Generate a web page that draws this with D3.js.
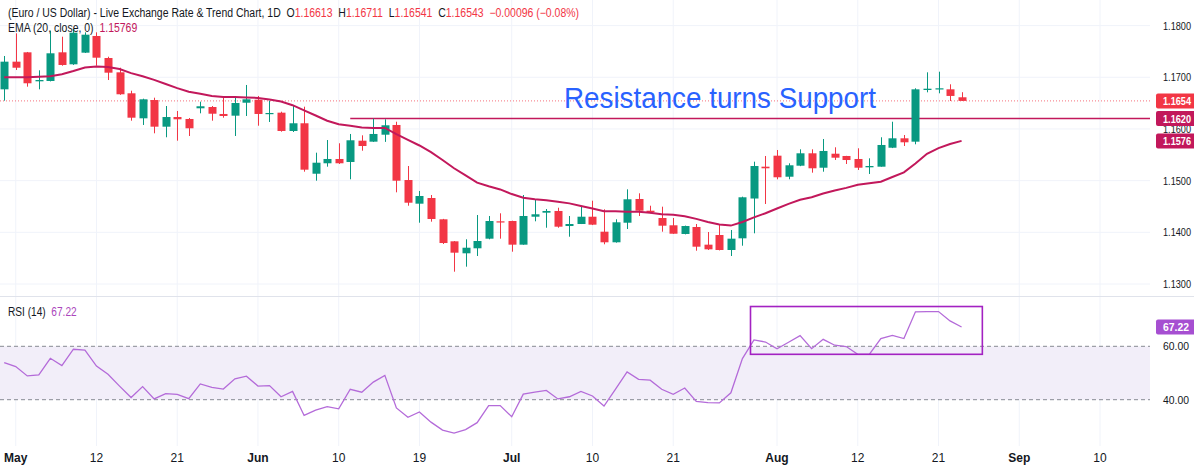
<!DOCTYPE html>
<html>
<head>
<meta charset="utf-8">
<script src="https://cdn.jsdelivr.net/npm/d3@7"></script>
<style>
  body { margin: 0; background: #fff; }
  svg { display: block; font-family: "Liberation Sans", Arial, sans-serif; }
  .legend { white-space: pre; }
</style>
</head>
<body>
<svg id="chart" width="1194" height="467"></svg>
<script>
// daily candles, Apr 30 .. Aug 25 (bar index 0..83)
const opens = [1.16767,1.17302,1.17483,1.16922,1.16928,1.17483,1.17251,1.17476,1.17799,1.17373,
  1.17096,1.16690,1.16206,1.16560,1.16044,1.16231,1.16193,1.16400,1.16425,1.16290,
  1.16257,1.16508,1.16566,1.16295,1.16315,1.15961,1.16110,1.15134,1.15336,1.15419,
  1.15361,1.15773,1.15754,1.15889,1.16077,1.15012,1.14554,1.14664,1.14252,1.13826,
  1.13594,1.13691,1.13877,1.14213,1.14219,1.13761,1.14302,1.14380,1.14413,1.14122,
  1.14161,1.14302,1.14012,1.13807,1.14186,1.14645,1.14418,1.14277,1.14136,1.13968,
  1.14103,1.13761,1.13948,1.13658,1.13884,1.14654,1.15270,1.15483,1.15076,1.15289,
  1.15529,1.15250,1.15521,1.15477,1.15419,1.15258,1.15270,1.15637,1.15819,1.15754,
  1.16754,1.16767,1.16767,1.16613];
const highs = [1.17412,1.17851,1.17490,1.17135,1.17901,1.17785,1.17929,1.17870,1.17870,1.17398,
  1.17185,1.16740,1.16586,1.16605,1.16444,1.16348,1.16212,1.16528,1.16444,1.16613,
  1.16613,1.16851,1.16638,1.16547,1.16334,1.16444,1.16431,1.15541,1.15786,1.15723,
  1.15903,1.15877,1.16199,1.16187,1.16140,1.15283,1.14800,1.14722,1.14260,1.13830,
  1.13865,1.14335,1.14316,1.14368,1.14225,1.14722,1.14625,1.14451,1.14476,1.14316,
  1.14496,1.14612,1.14445,1.14252,1.14832,1.14755,1.14515,1.14496,1.14277,1.14130,
  1.14161,1.14006,1.14161,1.14045,1.14690,1.15367,1.15477,1.15593,1.15335,1.15606,
  1.15606,1.15806,1.15645,1.15480,1.15626,1.15432,1.15839,1.16140,1.15883,1.16787,
  1.17096,1.17108,1.16864,1.16711];
const lows = [1.16547,1.17141,1.16818,1.16767,1.16920,1.17224,1.17240,1.17470,1.17224,1.16947,
  1.16660,1.16160,1.16077,1.15916,1.15839,1.15773,1.15864,1.16303,1.16160,1.16218,
  1.15864,1.16251,1.16063,1.16135,1.15947,1.15941,1.15173,1.14999,1.15270,1.15322,
  1.15026,1.15579,1.15750,1.15750,1.14774,1.14515,1.14186,1.14206,1.13774,1.13238,
  1.13335,1.13542,1.13865,1.13877,1.13625,1.13760,1.14213,1.14089,1.14089,1.13915,
  1.14160,1.14140,1.13768,1.13800,1.14064,1.14316,1.14368,1.14012,1.13970,1.13960,
  1.13644,1.13658,1.13650,1.13542,1.13741,1.13981,1.14548,1.15026,1.15026,1.15280,
  1.15154,1.15173,1.15400,1.15322,1.15206,1.15129,1.15270,1.15630,1.15670,1.15703,
  1.16709,1.16690,1.16541,1.16541];
const closes = [1.17302,1.17185,1.16884,1.16947,1.17464,1.17238,1.17863,1.17824,1.17379,1.17089,
  1.16671,1.16218,1.16574,1.16044,1.16231,1.16187,1.16013,1.16439,1.16295,1.16251,
  1.16502,1.16574,1.16290,1.16309,1.15961,1.16110,1.15212,1.15347,1.15419,1.15336,
  1.15781,1.15670,1.15903,1.16071,1.14999,1.14573,1.14703,1.14258,1.13793,1.13606,
  1.13702,1.13832,1.14219,1.14200,1.13761,1.14316,1.14349,1.14413,1.14109,1.14161,
  1.14302,1.14148,1.13807,1.14194,1.14639,1.14418,1.14393,1.14128,1.13973,1.14122,
  1.13722,1.13671,1.13658,1.13877,1.14678,1.15283,1.15239,1.15065,1.15297,1.15529,
  1.15239,1.15574,1.15444,1.15399,1.15250,1.15283,1.15690,1.15819,1.15742,1.16767,
  1.16779,1.16787,1.16639,1.16543];
const ema20 = [1.1700,1.1700,1.1700,1.1701,1.1702,1.1706,1.1712,1.1719,1.1721,1.1720,
  1.1716,1.1708,1.1702,1.1695,1.1687,1.1679,1.1672,1.1668,1.1664,1.1662,
  1.1662,1.1661,1.1660,1.1657,1.1653,1.1646,1.1636,1.1626,1.1616,1.1609,
  1.1606,1.1603,1.1602,1.1602,1.1590,1.1579,1.1568,1.1555,1.1540,1.1524,
  1.1510,1.1496,1.1489,1.1483,1.1474,1.1467,1.1464,1.1462,1.1459,1.1456,
  1.1451,1.1446,1.1441,1.1441,1.1440,1.1440,1.1438,1.1435,1.1434,1.1431,
  1.1426,1.1420,1.1415,1.1413,1.1420,1.1429,1.1437,1.1446,1.1455,1.1463,
  1.1468,1.1475,1.1481,1.1486,1.1492,1.1495,1.1498,1.1507,1.1516,1.1533,
  1.1552,1.1563,1.1571,1.15769];
const rsi14 = [53.9,52.4,48.9,49.3,55.5,52.8,58.9,58.6,52.6,49.5,
  45.1,40.8,44.9,40.3,42.3,42.0,40.4,45.9,44.6,44.0,
  47.8,48.8,45.1,45.3,41.1,43.1,34.1,36.1,37.4,36.6,
  43.9,42.8,46.6,49.1,36.9,33.4,35.4,31.6,28.6,27.5,
  28.8,31.4,37.8,37.8,33.6,42.1,42.8,43.5,40.3,41.1,
  43.1,41.4,37.6,44.0,50.4,47.6,47.3,43.9,42.0,44.4,
  39.4,38.9,38.8,42.6,55.4,62.4,61.6,59.1,61.5,64.0,
  59.1,62.6,60.4,59.9,57.0,57.0,62.9,64.1,62.9,72.9,
  73.0,73.0,69.5,67.22];

const priceTicks = [1.13, 1.14, 1.15, 1.16, 1.17, 1.18];
const tickIdx = [1, 8, 15, 22, 29, 36, 44, 51, 58, 67, 74, 81, 88, 95];
const tickLabels = ["May", "12", "21", "Jun", "10", "19", "Jul", "10", "21", "Aug", "12", "21", "Sep", "10"];
const monthLabels = ["May", "Jun", "Jul", "Aug", "Sep"];
const rsiLevels = [60, 40];
const supportLevel = 1.1620;   // old resistance, drawn from bar 30
const rsiBox = [64.7, 84.8, 57, 74.9]; // bar from, bar to, rsi low, rsi high

const GREEN = "#089981", RED = "#f23645", EMA_C = "#c2185b", RSI_C = "#b46bd9", INK = "#131722";

let svg = d3.select("#chart");
let plotRight = 1150;
let mainTop = 0, mainBottom = 296, rsiBottom = 446;

// scales: one bar = 11.535px
let x = d3.scaleLinear().domain([0, 95]).range([4.2, 1100]);
let y = d3.scaleLinear().domain([1.13, 1.18]).range([284, 25.6]);
let yR = d3.scaleLinear().domain([40, 60]).range([399.7, 346.3]);

let defs = svg.append("defs");
defs.append("clipPath").attr("id", "clipMain").append("rect")
  .attr("x", 0).attr("y", mainTop).attr("width", plotRight).attr("height", mainBottom - mainTop);
defs.append("clipPath").attr("id", "clipRsi").append("rect")
  .attr("x", 0).attr("y", mainBottom).attr("width", plotRight).attr("height", rsiBottom - mainBottom);

// grid
svg.append("g").selectAll("line").data(tickIdx).enter().append("line")
  .attr("x1", d => x(d)).attr("x2", d => x(d))
  .attr("y1", 0).attr("y2", rsiBottom)
  .style("stroke", "#f0f3fa");
svg.append("g").selectAll("line").data(priceTicks).enter().append("line")
  .attr("x1", 0).attr("x2", plotRight)
  .attr("y1", d => y(d)).attr("y2", d => y(d))
  .style("stroke", "#f0f3fa");

// pane separator
svg.append("line").attr("x1", 0).attr("x2", 1194).attr("y1", mainBottom + 0.5).attr("y2", mainBottom + 0.5)
  .style("stroke", "#e0e3eb");

let main = svg.append("g").attr("clip-path", "url(#clipMain)");

// last price dotted line
let last = closes.length - 1;
main.append("line")
  .attr("x1", 0).attr("x2", plotRight)
  .attr("y1", y(closes[last])).attr("y2", y(closes[last]))
  .style("stroke", RED).style("stroke-dasharray", "1,2").style("opacity", 0.7);

// support line
main.append("line")
  .attr("x1", x(30)).attr("x2", plotRight)
  .attr("y1", y(supportLevel)).attr("y2", y(supportLevel))
  .style("stroke", EMA_C).style("stroke-width", 1.5);

let bars = d3.range(closes.length);

// wicks
main.append("g").selectAll("line").data(bars).enter().append("line")
  .attr("x1", i => Math.round(x(i)) + 0.5).attr("x2", i => Math.round(x(i)) + 0.5)
  .attr("y1", i => y(highs[i])).attr("y2", i => y(lows[i]))
  .style("stroke", i => closes[i] >= opens[i] ? GREEN : RED);

// bodies
main.append("g").selectAll("rect").data(bars).enter().append("rect")
  .attr("x", i => Math.round(x(i)) - 3.5)
  .attr("width", 8)
  .attr("y", i => y(Math.max(opens[i], closes[i])))
  .attr("height", i => Math.max(1.2, Math.abs(y(opens[i]) - y(closes[i]))))
  .style("fill", i => closes[i] >= opens[i] ? GREEN : RED);

// EMA
main.append("path")
  .datum(bars)
  .attr("d", d3.line().x(i => x(i)).y(i => y(ema20[i])))
  .style("fill", "none").style("stroke", EMA_C).style("stroke-width", 2);

// annotation
svg.append("text")
  .attr("x", 564).attr("y", 108)
  .attr("textLength", 312).attr("lengthAdjust", "spacingAndGlyphs")
  .style("font-size", "29px").style("fill", "#2962ff")
  .text("Resistance turns Support");

// RSI pane
let rsiG = svg.append("g").attr("clip-path", "url(#clipRsi)");
rsiG.append("rect")
  .attr("x", 0).attr("width", plotRight)
  .attr("y", yR(60)).attr("height", yR(40) - yR(60))
  .style("fill", "#f2eef9");
rsiG.selectAll(".lvl").data(rsiLevels).enter().append("line")
  .attr("x1", 0).attr("x2", plotRight)
  .attr("y1", d => yR(d)).attr("y2", d => yR(d))
  .style("stroke", "#878a93").style("stroke-dasharray", "4,3");
rsiG.append("path")
  .datum(bars)
  .attr("d", d3.line().x(i => x(i)).y(i => yR(rsi14[i])))
  .style("fill", "none").style("stroke", RSI_C).style("stroke-width", 1.3);
rsiG.append("rect")
  .attr("x", x(rsiBox[0])).attr("width", x(rsiBox[1]) - x(rsiBox[0]))
  .attr("y", yR(rsiBox[3])).attr("height", yR(rsiBox[2]) - yR(rsiBox[3]))
  .style("fill", "none").style("stroke", "#a322c2").style("stroke-width", 1.6);

// right price axis
let fmt4 = d3.format(".4f");
let trunc4 = v => (Math.floor(v * 1e4 + 1e-6) / 1e4).toFixed(4);
svg.append("g").selectAll("text").data(priceTicks).enter().append("text")
  .attr("x", 1163).attr("y", d => y(d) + 4)
  .attr("textLength", 28).attr("lengthAdjust", "spacingAndGlyphs")
  .style("font-size", "11px").style("fill", INK)
  .text(d => fmt4(d));

function badge(v, yy, color, w) {
  svg.append("rect").attr("x", 1156).attr("y", yy - 7.5).attr("width", 40).attr("height", 15)
    .attr("rx", 2).style("fill", color);
  svg.append("text").attr("x", 1163).attr("y", yy + 4.2)
    .attr("textLength", w).attr("lengthAdjust", "spacingAndGlyphs")
    .style("font-size", "11px").style("font-weight", "bold").style("fill", "#fff").text(v);
}
badge(trunc4(closes[last]), y(closes[last]), RED, 28);
badge(trunc4(supportLevel), y(supportLevel), EMA_C, 28);
badge(trunc4(ema20[last]), y(ema20[last]), EMA_C, 28);

// RSI axis
svg.append("g").selectAll("text").data(rsiLevels).enter().append("text")
  .attr("x", 1163).attr("y", d => yR(d) + 4)
  .attr("textLength", 26).attr("lengthAdjust", "spacingAndGlyphs")
  .style("font-size", "11px").style("fill", INK)
  .text(d => d3.format(".2f")(d));
badge(d3.format(".2f")(rsi14[last]), yR(rsi14[last]), "#a64fd1", 26);

// time axis
svg.append("g").selectAll("text").data(tickIdx).enter().append("text")
  .attr("x", d => x(d)).attr("y", 462)
  .attr("text-anchor", "middle")
  .style("font-size", "12px").style("fill", INK)
  .style("font-weight", (d, k) => monthLabels.includes(tickLabels[k]) ? "bold" : "normal")
  .text((d, k) => tickLabels[k]);

// legends, one text element per line
let fmt5 = d3.format(".5f");
let chg = closes[last] - closes[last - 1];
let title = [
  ["(Euro / US Dollar) - Live Exchange Rate & Trend Chart, 1D  O", INK],
  [fmt5(opens[last]), RED], ["  H", INK], [fmt5(highs[last]), RED],
  ["  L", INK], [fmt5(lows[last]), RED], ["  C", INK], [fmt5(closes[last]), RED],
  ["  " + fmt5(chg) + " (" + d3.format(".2f")(chg / closes[last - 1] * 100) + "%)", RED]
];
function legendLine(parts, x0, yy, len, size) {
  let t = svg.append("text").attr("class", "legend")
    .attr("x", x0).attr("y", yy)
    .attr("textLength", len).attr("lengthAdjust", "spacingAndGlyphs")
    .style("font-size", size);
  parts.forEach(p => t.append("tspan").style("fill", p[1]).text(p[0]));
}
legendLine(title, 8, 16.5, 571, "12px");
legendLine([["EMA (20, close, 0)  ", INK], [fmt5(ema20[last]), EMA_C]], 8, 31.5, 129.3, "12px");
legendLine([["RSI (14)  ", INK], [d3.format(".2f")(rsi14[last]), "#ab47bc"]], 8, 316, 68.7, "12px");
</script>
</body>
</html>
